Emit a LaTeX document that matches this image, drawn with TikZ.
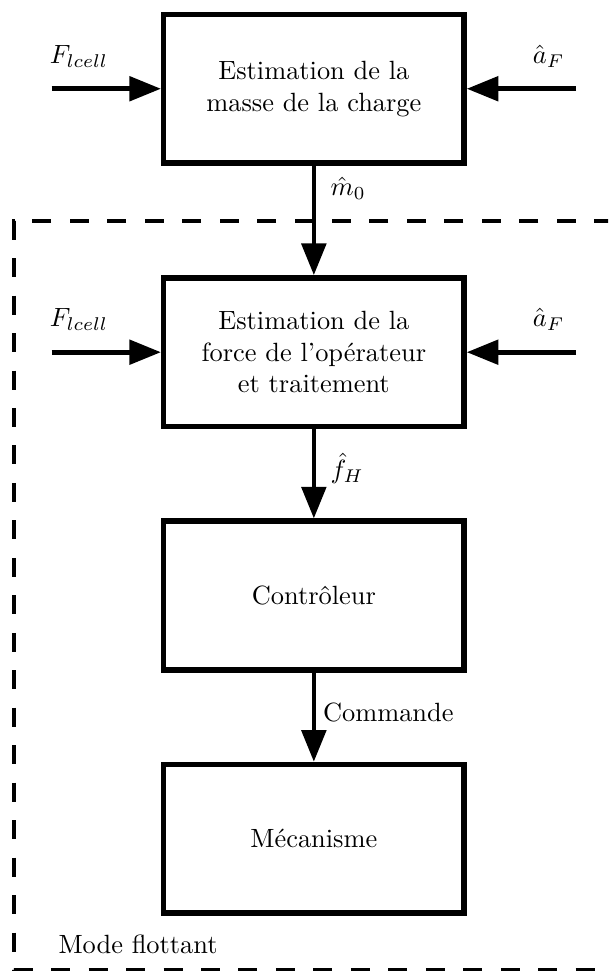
\documentclass[tikz,border=0pt]{standalone}
\usetikzlibrary{arrows.meta}
\begin{document}
\begin{tikzpicture}[x=0.379pt,y=-0.379pt,
  block/.style={draw, line width=2.1pt, minimum width=113.8pt, minimum height=56.3pt,
                align=center, inner sep=2pt},
  flow/.style={line width=1.78pt, -{Triangle[length=12pt,width=9.2pt]}},
  sig/.style={inner sep=0pt, anchor=base},
  sideways/.style={inner sep=0pt, anchor=base west},
  frame/.style={line width=1.5pt, dash pattern=on 7.2pt off 7pt}]
\clip (0,0) rectangle (608,971);

% blocks
\node[block] (mass) at (313.85,88.75) {Estimation de la\\masse de la charge};
\node[block] (force) at (313.85,352.2) {Estimation de la\\force de l'opérateur\\et traitement};
\node[block] (ctrl) at (313.85,595.5) {Contrôleur};
\node[block] (mech) at (313.85,838.8) {Mécanisme};

% free ends of the input signals
\coordinate (inL1) at (51.7,88.75);
\coordinate (inR1) at (576,88.75);
\coordinate (inL2) at (51.7,352.2);
\coordinate (inR2) at (576,352.2);

% inputs of the mass estimator
\draw[flow] (inL1) -- node[sig, pos=0.25, yshift=9.6pt] (lblF1) {$F_{lcell}$} (mass);
\draw[flow] (inR1) -- node[sig, pos=0.25, yshift=9.6pt] (lblA1) {$\hat{a}_F$} (mass);

% inputs of the force estimator
\draw[flow] (inL2) -- node[sig, pos=0.25, yshift=9.8pt] (lblF2) {$F_{lcell}$} (force);
\draw[flow] (inR2) -- node[sig, pos=0.25, yshift=9.8pt] (lblA2) {$\hat{a}_F$} (force);

% vertical chain
\draw[flow] (mass) -- node[sideways, pos=0.27, xshift=5.5pt] (lblM) {$\hat{m}_0$} (force);
\draw[flow] (force) -- node[sideways, pos=0.55, xshift=5.5pt] (lblH) {$\hat{f}_H$} (ctrl);
\draw[flow] (ctrl) -- node[sideways, pos=0.55, xshift=2.6pt] (lblC) {Commande} (mech);

% floating-mode region
\draw[frame] (650.7,220.7) -- (13.7,220.7) -- (13.7,970) -- (650.7,970);
\node[inner sep=0pt, anchor=base west] (mode) at (58,953) {Mode flottant};
\end{tikzpicture}
\end{document}
